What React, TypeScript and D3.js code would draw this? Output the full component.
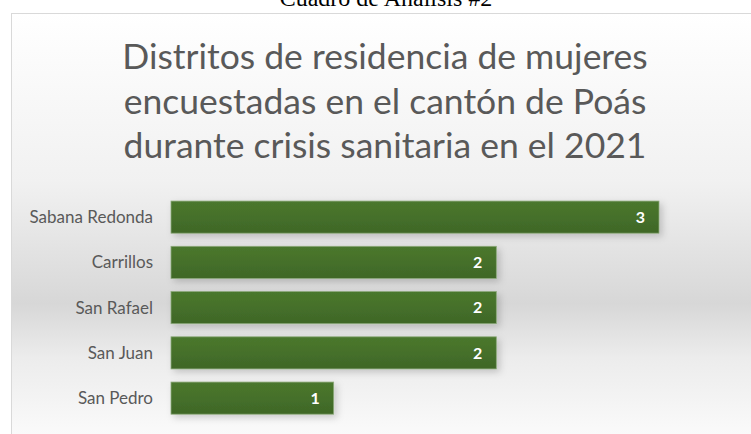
import * as d3 from "d3";
import { useEffect, useRef } from "react";

const pageTitle = "Cuadro de Análisis #2";
const titleLines = [
  "Distritos de residencia de mujeres",
  "encuestadas en el cantón de Poás",
  "durante crisis sanitaria en el 2021",
];
const districts = ["Sabana Redonda", "Carrillos", "San Rafael", "San Juan", "San Pedro"];
const counts = [3, 2, 2, 2, 1];

export default function App() {
  const svgRef = useRef<SVGSVGElement>(null);

  useEffect(() => {
    if (!svgRef.current) return;
    const W = 751;
    const H = 434;

    const svg = d3.select(svgRef.current);
    svg.selectAll("*").remove();
    svg.attr("width", W).attr("height", H);

    const defs = svg.append("defs");

    // chart area background (light gray band around the lower middle)
    const bg = defs
      .append("linearGradient")
      .attr("id", "bg")
      .attr("gradientUnits", "userSpaceOnUse")
      .attr("x1", 0)
      .attr("y1", 13)
      .attr("x2", 0)
      .attr("y2", H);
    [
      [0, "#ffffff"],
      [0.4, "#f1f1f1"],
      [0.57, "#e2e2e2"],
      [0.69, "#d7d7d7"],
      [0.82, "#ececec"],
      [1, "#fafafa"],
    ].forEach(([o, c]) => bg.append("stop").attr("offset", o).attr("stop-color", c));

    const barGrad = defs
      .append("linearGradient")
      .attr("id", "bar")
      .attr("x1", 0)
      .attr("y1", 0)
      .attr("x2", 0)
      .attr("y2", 1);
    barGrad.append("stop").attr("offset", 0).attr("stop-color", "#4b782d");
    barGrad.append("stop").attr("offset", 1).attr("stop-color", "#3f6727");

    const shadow = defs
      .append("filter")
      .attr("id", "shadow")
      .attr("x", "-10%")
      .attr("y", "-30%")
      .attr("width", "130%")
      .attr("height", "180%");
    shadow
      .append("feDropShadow")
      .attr("dx", 3)
      .attr("dy", 3)
      .attr("stdDeviation", 3.5)
      .attr("flood-color", "#000")
      .attr("flood-opacity", 0.18);

    // page caption, partly cut off at the top
    svg
      .append("text")
      .attr("x", 386)
      .attr("y", 6)
      .attr("text-anchor", "middle")
      .style("font-family", "'Liberation Serif', 'Times New Roman', serif")
      .style("font-size", "24px")
      .attr("fill", "#000")
      .text(pageTitle);

    // chart frame
    svg
      .append("rect")
      .attr("x", 11.5)
      .attr("y", 13.5)
      .attr("width", W)
      .attr("height", H)
      .attr("fill", "url(#bg)")
      .attr("stroke", "#d9d9d9")
      .attr("stroke-width", 1);

    // title
    svg
      .append("g")
      .selectAll("text")
      .data(titleLines)
      .join("text")
      .attr("x", 385)
      .attr("y", (_, i) => 69 + i * 44.5)
      .attr("text-anchor", "middle")
      .style("font-family", "Lato, sans-serif")
      .style("font-size", "35.5px")
      .attr("fill", "#595959")
      .text((d) => d);

    const x = d3.scaleLinear().domain([0, 3]).range([171, 659]);
    const y = d3
      .scaleBand<string>()
      .domain(districts)
      .range([194.5, 420.75])
      .paddingInner(0.29)
      .paddingOuter(0.145);

    const rows = districts.map((name, i) => ({ name, value: counts[i] }));

    // category labels
    svg
      .append("g")
      .selectAll("text")
      .data(rows)
      .join("text")
      .attr("x", 153)
      .attr("y", (d) => (y(d.name) || 0) + y.bandwidth() / 2)
      .attr("dy", "0.35em")
      .attr("text-anchor", "end")
      .style("font-family", "Lato, sans-serif")
      .style("font-size", "17px")
      .attr("fill", "#595959")
      .text((d) => d.name);

    // bars
    svg
      .append("g")
      .selectAll("rect")
      .data(rows)
      .join("rect")
      .attr("x", x(0))
      .attr("y", (d) => y(d.name) || 0)
      .attr("width", (d) => x(d.value) - x(0))
      .attr("height", y.bandwidth())
      .attr("fill", "url(#bar)")
      .attr("stroke", "#8ca97a")
      .attr("stroke-width", 0.8)
      .attr("filter", "url(#shadow)");

    // value labels
    svg
      .append("g")
      .selectAll("text")
      .data(rows)
      .join("text")
      .attr("x", (d) => x(d.value) - 14)
      .attr("y", (d) => (y(d.name) || 0) + y.bandwidth() / 2)
      .attr("dy", "0.36em")
      .attr("text-anchor", "end")
      .style("font-family", "Lato, sans-serif")
      .style("font-size", "16px")
      .style("font-weight", "bold")
      .attr("fill", "#ffffff")
      .text((d) => d.value);
  }, []);

  return (
    <svg
      ref={svgRef}
      style={{ position: "absolute", left: 0, top: 0, display: "block" }}
    />
  );
}
